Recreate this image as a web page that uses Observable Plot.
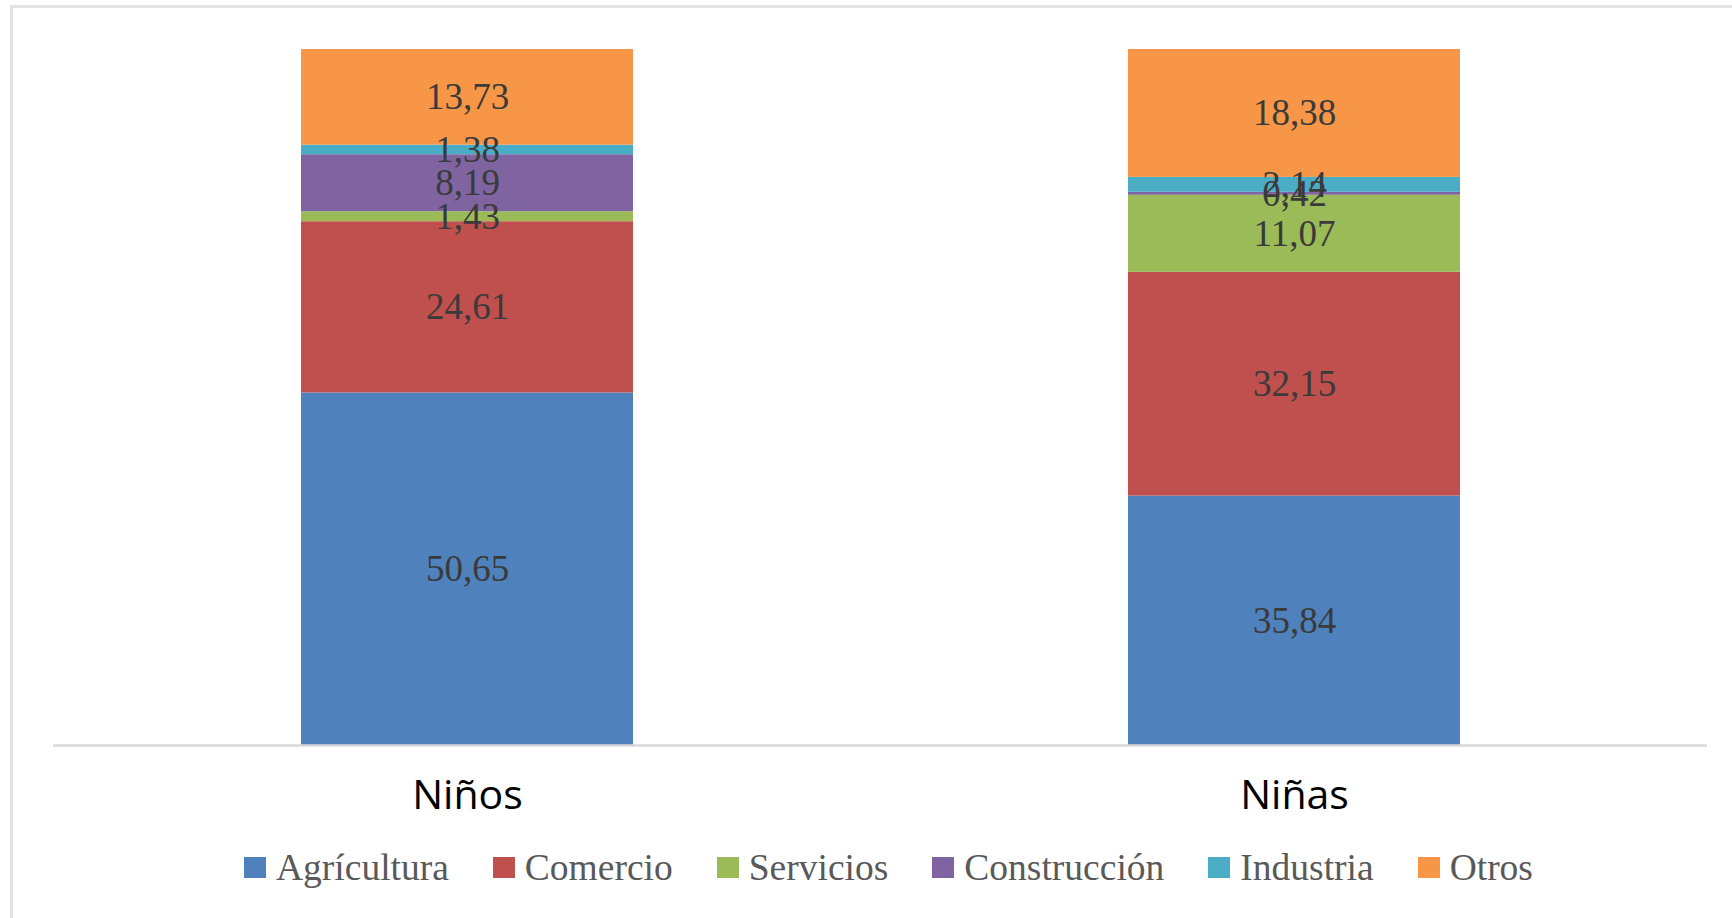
<!DOCTYPE html>
<html>
<head>
<meta charset="utf-8">
<script src="https://cdn.jsdelivr.net/npm/d3@7"></script>
<script src="https://cdn.jsdelivr.net/npm/@observablehq/plot@0.6"></script>
<style>
  html, body { margin: 0; padding: 0; background: #fff; }
  #wrap { position: relative; width: 1732px; height: 918px; overflow: hidden; background: #fff; }
  #frame { position: absolute; left: 10px; top: 5px; width: 1800px; height: 1000px;
           border-left: 3px solid #e3e3e3; border-top: 3px solid #e3e3e3; box-sizing: border-box; }
  #chart { position: absolute; left: 0; top: 0; }
  #legend { position: absolute; left: 244px; top: 846px; display: flex; align-items: center;
            font-family: "Liberation Serif", "DejaVu Serif", serif; font-size: 37.5px; color: #595959; }
  .item { display: flex; align-items: center; margin-right: 44px; }
  .item:last-child { margin-right: 0; }
  .sw { width: 22px; height: 21px; margin-right: 10px; }
</style>
</head>
<body>
<div id="wrap">
  <div id="frame"></div>
  <div id="chart"></div>
  <div id="legend"></div>
</div>
<script>
const groups = ["Niños", "Niñas"];
const sectors = ["Agrícultura", "Comercio", "Servicios", "Construcción", "Industria", "Otros"];
const ninos = [50.65, 24.61, 1.43, 8.19, 1.38, 13.73];
const ninas = [35.84, 32.15, 11.07, 0.42, 2.14, 18.38];
const colors = ["#4F81BD", "#C0504D", "#9BBB59", "#8064A2", "#4BACC6", "#F79646"];

const rows = [];
sectors.forEach((s, i) => {
  rows.push({group: groups[0], sector: s, value: ninos[i]});
  rows.push({group: groups[1], sector: s, value: ninas[i]});
});
const fmt = v => v.toFixed(2).replace(".", ",");

const chart = Plot.plot({
  width: 1732,
  height: 830,
  marginLeft: 300,
  marginRight: 272,
  marginTop: 49,
  marginBottom: 85,
  style: {background: "transparent", overflow: "visible"},
  x: {domain: groups, paddingInner: 0.599, paddingOuter: 0, label: null},
  y: {domain: [0, 100], axis: null},
  color: {domain: sectors, range: colors},
  marks: [
    Plot.barY(rows, Plot.stackY({x: "group", y: "value", fill: "sector", order: sectors})),
    Plot.ruleY([0], {stroke: "#d9d9d9", strokeWidth: 2.5, insetLeft: -247, insetRight: -247}),
    Plot.text(rows, Plot.stackY({
      x: "group", y: "value", z: "sector", order: sectors,
      text: d => fmt(d.value),
      fill: "#3a3a3a", fontSize: 37, fontFamily: "Liberation Serif, DejaVu Serif, serif"
    })),
    Plot.axisX({tickSize: 0, tickPadding: 34, fontSize: 41, fill: "#000",
                fontFamily: "Open Sans, Noto Sans, sans-serif", label: null})
  ]
});
document.getElementById("chart").appendChild(chart);

const legend = document.getElementById("legend");
sectors.forEach((s, i) => {
  const it = document.createElement("div");
  it.className = "item";
  const sw = document.createElement("div");
  sw.className = "sw";
  sw.style.background = colors[i];
  const t = document.createElement("span");
  t.textContent = s;
  it.appendChild(sw);
  it.appendChild(t);
  legend.appendChild(it);
});
</script>
</body>
</html>
